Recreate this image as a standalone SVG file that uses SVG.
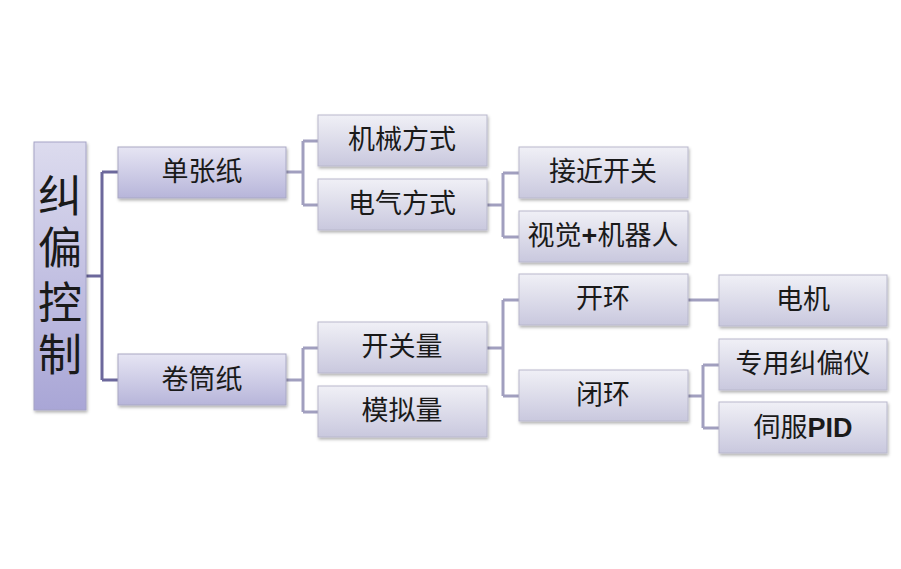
<svg xmlns="http://www.w3.org/2000/svg" width="901" height="569" viewBox="0 0 901 569">
<defs>
<linearGradient id="gBox" x1="0" y1="0" x2="0" y2="1">
<stop offset="0" stop-color="#f0f0f6"/>
<stop offset="1" stop-color="#c9c8de"/>
</linearGradient>
<linearGradient id="gL1" x1="0" y1="0" x2="0" y2="1">
<stop offset="0" stop-color="#e6e5f3"/>
<stop offset="1" stop-color="#b7b5da"/>
</linearGradient>
<linearGradient id="gRoot" x1="0" y1="0" x2="0" y2="1">
<stop offset="0" stop-color="#dcdbee"/>
<stop offset="1" stop-color="#a9a6d6"/>
</linearGradient>
<filter id="sh" x="-10%" y="-10%" width="130%" height="140%">
<feDropShadow dx="1" dy="2" stdDeviation="1.5" flood-color="#000" flood-opacity="0.3"/>
</filter>
</defs>
<style>
.box{fill:url(#gBox);stroke:#b9b8cc;stroke-width:1;filter:url(#sh)}
.l1{fill:url(#gL1);stroke:#a9a8c4;stroke-width:1;filter:url(#sh)}
.root{fill:url(#gRoot);stroke:#a5a3c6;stroke-width:1;filter:url(#sh)}
text{font-family:"Liberation Sans","Noto Sans CJK SC",sans-serif;fill:#1a1a1a;text-anchor:middle;dominant-baseline:central}
.t{font-size:27px}
.tr{font-size:44px}
.c1{fill:none;stroke:#6c689c;stroke-width:3}
.c2{fill:none;stroke:#a19fbf;stroke-width:3}
</style>
<rect width="901" height="569" fill="#ffffff"/>
<g id="connectors">
<path class="c1" d="M86 276H102M102 172V380M102 172H118M102 380H118"/>
<path class="c2" d="M286 172H303M303 141V205M303 141H318M303 205H318"/>
<path class="c2" d="M286 380H303M303 348V412M303 348H318M303 412H318"/>
<path class="c2" d="M487 205H503M503 173V237M503 173H519M503 237H519"/>
<path class="c2" d="M487 348H503M503 300V396M503 300H519M503 396H519"/>
<path class="c2" d="M688 300H719"/>
<path class="c2" d="M688 396H703M703 365V428M703 365H719M703 428H719"/>
</g>
<g id="root"><rect class="root" x="34" y="142" width="52" height="268"/>
<text class="tr" x="60" y="196">纠</text><text class="tr" x="60" y="248">偏</text><text class="tr" x="60" y="303">控</text><text class="tr" x="60" y="355">制</text></g>
<g id="n1"><rect class="l1" x="118" y="147" width="168" height="51"/><text class="t" x="202" y="172">单张纸</text></g>
<g id="n2"><rect class="l1" x="118" y="354" width="168" height="51"/><text class="t" x="202" y="380">卷筒纸</text></g>
<g id="n3"><rect class="box" x="318" y="115" width="169" height="51"/><text class="t" x="402" y="140">机械方式</text></g>
<g id="n4"><rect class="box" x="318" y="179" width="169" height="51"/><text class="t" x="402" y="204">电气方式</text></g>
<g id="n5"><rect class="box" x="318" y="322" width="169" height="51"/><text class="t" x="402" y="347">开关量</text></g>
<g id="n6"><rect class="box" x="318" y="386" width="169" height="51"/><text class="t" x="402" y="411">模拟量</text></g>
<g id="n7"><rect class="box" x="519" y="147" width="169" height="51"/><text class="t" x="603" y="172">接近开关</text></g>
<g id="n8"><rect class="box" x="519" y="211" width="169" height="51"/><text class="t" x="603" y="236">视觉<tspan font-weight="bold">+</tspan>机器人</text></g>
<g id="n9"><rect class="box" x="519" y="274" width="169" height="51"/><text class="t" x="603" y="299">开环</text></g>
<g id="n10"><rect class="box" x="519" y="370" width="169" height="51"/><text class="t" x="603" y="395">闭环</text></g>
<g id="n11"><rect class="box" x="719" y="275" width="168" height="51"/><text class="t" x="803" y="300">电机</text></g>
<g id="n12"><rect class="box" x="719" y="339" width="168" height="51"/><text class="t" x="803" y="364">专用纠偏仪</text></g>
<g id="n13"><rect class="box" x="719" y="402" width="168" height="51"/><text class="t" x="803" y="428">伺服<tspan font-weight="bold">PID</tspan></text></g>
</svg>
